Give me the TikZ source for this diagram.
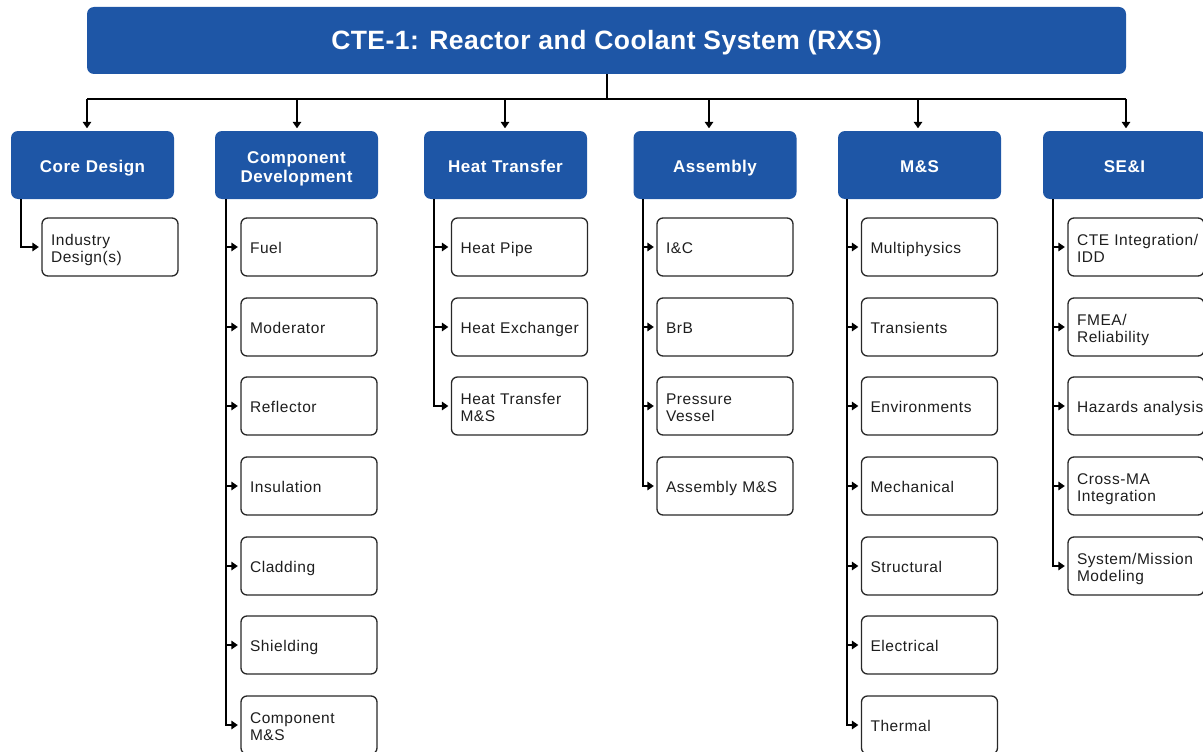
\documentclass[tikz,border=0pt]{standalone}
\usepackage{fontspec}
\setmainfont{Liberation Sans}
\newfontfamily\titlefont[LetterSpace=1.7]{Liberation Sans}
\newfontfamily\hdrfont[LetterSpace=3]{Liberation Sans}
\newfontfamily\leaffont[LetterSpace=3.7]{Liberation Sans}
\usetikzlibrary{arrows.meta,calc}
\definecolor{rxsblue}{RGB}{30,86,166}
\definecolor{leafline}{RGB}{40,40,40}
\definecolor{leaftext}{RGB}{30,30,30}
\tikzset{
  title/.style={fill=rxsblue, rounded corners=7pt, minimum width=1039pt, minimum height=67pt,
    text=white, font=\titlefont\fontsize{26.5}{30}\selectfont\bfseries, inner sep=0pt,
    execute at begin node={\rule{0pt}{22.6pt}}},
  hdr/.style={fill=rxsblue, rounded corners=7pt, minimum width=163pt, minimum height=68pt,
    text=white, font=\hdrfont\fontsize{17}{19}\selectfont\bfseries, align=center,
    text width=155pt, inner xsep=4pt, inner ysep=0pt, text height=14.2pt, text depth=0pt},
  hdr2/.style={hdr, text height=0pt, text depth=3.8pt},
  leaf/.style={draw=leafline, line width=1.3pt, rounded corners=6pt, fill=white,
    minimum height=58pt, text width=136pt, inner xsep=0pt, inner ysep=0pt, align=left,
    text=leaftext, font=\leaffont\fontsize{15.5}{17}\selectfont,
    execute at begin node={\leftskip=9pt\hyphenpenalty=10000},
    text height=12.1pt, text depth=0pt},
  leaf2/.style={leaf, text height=0pt, text depth=2.9pt},
  link/.style={line width=2pt, black},
  arr/.style={link, -{Triangle[length=6.5pt,width=8.5pt]}, shorten >=2.5pt},
}
\begin{document}
\begin{tikzpicture}[x=1pt,y=-1pt]
\useasboundingbox (0,0) rectangle (1203,752);

% top level
\node[title] (top) at (606.5,40.5) {CTE-1: Reactor and Coolant System (RXS)};

% second level headers
\node[hdr]  (h1) at (92.5,165) {Core Design};
\node[hdr2] (h2) at (296.5,165) {Component\\Development};
\node[hdr]  (h3) at (505.5,165) {Heat Transfer};
\node[hdr]  (h4) at (715,165) {Assembly};
\node[hdr]  (h5) at (919.5,165) {M\&S};
\node[hdr]  (h6) at (1124.5,165) {SE\&I};

% distribution bus from the title to every header
\coordinate (bus) at (607,99);
\draw[link] (top.south -| bus) -- (bus);
\draw[link] ([xshift=-5.5pt]h1.north |- bus) -- ([xshift=1.5pt]h6.north |- bus);
\draw[arr] ([xshift=-5.5pt]h1.north |- bus) -- ([xshift=-5.5pt]h1.north);
\draw[arr] ([xshift=0.5pt]h2.north |- bus) -- ([xshift=0.5pt]h2.north);
\draw[arr] ([xshift=-0.5pt]h3.north |- bus) -- ([xshift=-0.5pt]h3.north);
\draw[arr] ([xshift=-6pt]h4.north |- bus) -- ([xshift=-6pt]h4.north);
\draw[arr] ([xshift=-1.5pt]h5.north |- bus) -- ([xshift=-1.5pt]h5.north);
\draw[arr] ([xshift=1.5pt]h6.north |- bus) -- ([xshift=1.5pt]h6.north);

% rows of work packages
\def\rowA{247}\def\rowB{327}\def\rowC{406}\def\rowD{486}\def\rowE{566}\def\rowF{645}\def\rowG{725}

\node[leaf2] (a1) at (110,\rowA) {Industry\\Design(s)};

\node[leaf]  (b1) at (309,\rowA) {Fuel};
\node[leaf]  (b2) at (309,\rowB) {Moderator};
\node[leaf]  (b3) at (309,\rowC) {Reflector};
\node[leaf]  (b4) at (309,\rowD) {Insulation};
\node[leaf]  (b5) at (309,\rowE) {Cladding};
\node[leaf]  (b6) at (309,\rowF) {Shielding};
\node[leaf2] (b7) at (309,\rowG) {Component\\M\&S};

\node[leaf]  (c1) at (519.5,\rowA) {Heat Pipe};
\node[leaf]  (c2) at (519.5,\rowB) {Heat Exchanger};
\node[leaf2] (c3) at (519.5,\rowC) {Heat Transfer\\M\&S};

\node[leaf]  (d1) at (725,\rowA) {I\&C};
\node[leaf]  (d2) at (725,\rowB) {BrB};
\node[leaf2] (d3) at (725,\rowC) {Pressure\\Vessel};
\node[leaf]  (d4) at (725,\rowD) {Assembly M\&S};

\node[leaf] (e1) at (929.5,\rowA) {Multiphysics};
\node[leaf] (e2) at (929.5,\rowB) {Transients};
\node[leaf] (e3) at (929.5,\rowC) {Environments};
\node[leaf] (e4) at (929.5,\rowD) {Mechanical};
\node[leaf] (e5) at (929.5,\rowE) {Structural};
\node[leaf] (e6) at (929.5,\rowF) {Electrical};
\node[leaf] (e7) at (929.5,\rowG) {Thermal};

\node[leaf2] (f1) at (1136,\rowA) {CTE Integration/\\IDD};
\node[leaf2] (f2) at (1136,\rowB) {FMEA/\\Reliability};
\node[leaf]  (f3) at (1136,\rowC) {Hazards analysis};
\node[leaf2] (f4) at (1136,\rowD) {Cross-MA\\Integration};
\node[leaf2] (f5) at (1136,\rowE) {System/Mission\\Modeling};

% trunks from each header down to its work packages
\draw[arr] ([xshift=10pt]h1.south west) |- (a1.west);
\foreach \n in {b1,b2,b3,b4,b5,b6,b7}
  \draw[arr] ([xshift=11pt]h2.south west) |- (\n.west);
\foreach \n in {c1,c2,c3}
  \draw[arr] ([xshift=10pt]h3.south west) |- (\n.west);
\foreach \n in {d1,d2,d3,d4}
  \draw[arr] ([xshift=9.5pt]h4.south west) |- (\n.west);
\foreach \n in {e1,e2,e3,e4,e5,e6,e7}
  \draw[arr] ([xshift=9pt]h5.south west) |- (\n.west);
\foreach \n in {f1,f2,f3,f4,f5}
  \draw[arr] ([xshift=10pt]h6.south west) |- (\n.west);
\end{tikzpicture}
\end{document}
